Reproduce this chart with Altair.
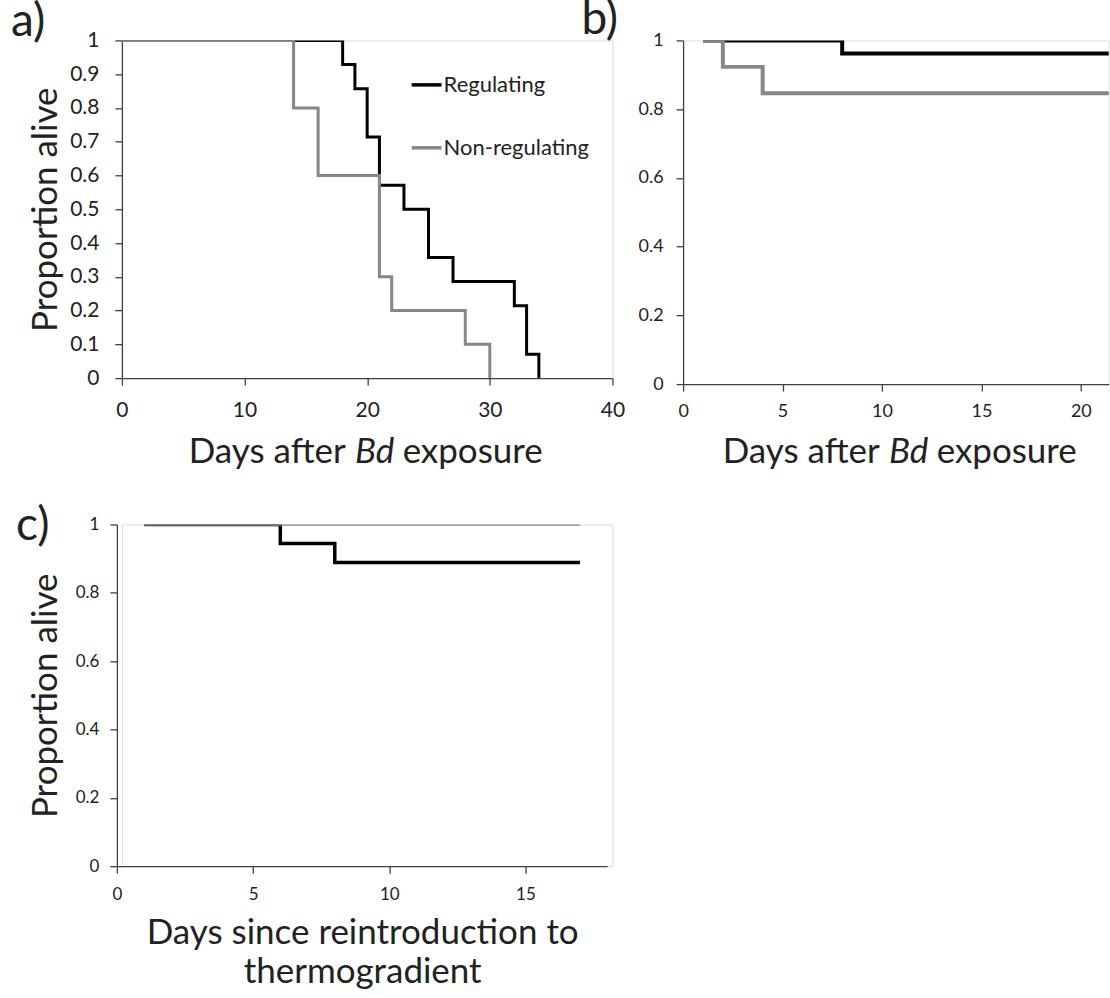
import altair as alt
import pandas as pd

FONT = "Lato"
TXT = "#222222"
AX = "#404040"

groups = ["Regulating", "Non-regulating"]
colors = ["#000000", "#878787"]

# Panel a
a_reg_days = [0, 18, 19, 20, 21, 23, 25, 27, 32, 33, 34]
a_reg_surv = [1, 0.929, 0.857, 0.714, 0.571, 0.5, 0.357, 0.286, 0.214, 0.071, 0]
a_non_days = [0, 14, 16, 21, 22, 28, 30]
a_non_surv = [1, 0.8, 0.6, 0.3, 0.2, 0.1, 0]
a_xticks = [0, 10, 20, 30, 40]
a_yticks = [0, 0.1, 0.2, 0.3, 0.4, 0.5, 0.6, 0.7, 0.8, 0.9, 1]

# Panel b
b_reg_days = [1, 8, 25]
b_reg_surv = [1, 0.962, 0.962]
b_non_days = [1, 2, 4, 25]
b_non_surv = [1, 0.923, 0.846, 0.846]
b_xticks = [0, 5, 10, 15, 20]
b_yticks = [0, 0.2, 0.4, 0.6, 0.8, 1]

# Panel c
c_reg_days = [1, 6, 8, 17]
c_reg_surv = [1, 0.944, 0.889, 0.889]
c_non_days = [1, 17]
c_non_surv = [1, 1]
c_xticks = [0, 5, 10, 15]
c_yticks = [0, 0.2, 0.4, 0.6, 0.8, 1]

TY = 39.5  # top of first row


def frame(days, surv, g):
    return pd.DataFrame({"day": days, "surv": surv, "group": g})


def axis_common(size, pad):
    return dict(grid=False, labelFont=FONT, labelFontSize=size, labelColor=TXT,
                labelPadding=pad, tickSize=7, tickColor=AX, tickWidth=1.3,
                domainColor=AX, domainWidth=1.3, labelFlush=False, labelOverlap=False)


def lines(df_reg, df_non, xscale, xaxis, yaxis, w_reg, w_non, legend=None):
    col = alt.Color("group:N", scale=alt.Scale(domain=groups, range=colors),
                    legend=legend)
    base = dict(x=alt.X("day:Q", scale=xscale, axis=xaxis),
                y=alt.Y("surv:Q", scale=alt.Scale(domain=[0, 1]), axis=yaxis))
    l1 = alt.Chart(df_reg).mark_line(interpolate="step-after", strokeWidth=w_reg,
                                      clip=True).encode(color=col, **base)
    l2 = alt.Chart(df_non).mark_line(interpolate="step-after", strokeWidth=w_non,
                                      clip=True).encode(color=col, **base)
    return [l1, l2]


def text_layer(txt, x, y, size, align="left", style="normal", baseline="alphabetic"):
    return alt.Chart(pd.DataFrame({"t": [txt]})).mark_text(
        text=txt, font=FONT, fontSize=size, fontStyle=style, align=align,
        baseline=baseline, color=TXT
    ).encode(x=alt.value(x), y=alt.value(y))


def bd_title(cx, y):
    return [
        text_layer("Days after", cx - 22, y, 35, align="right"),
        text_layer("Bd", cx + 7, y, 35, align="center", style="italic"),
        text_layer("exposure", cx + 35, y, 35, align="left"),
    ]


# ---------- panel a ----------
a_x0 = 121
a_h = 338
a_xaxis = alt.Axis(values=a_xticks, title=None, **axis_common(21, 14))
a_yaxis = alt.Axis(values=a_yticks, format="~g", title="Proportion alive",
                   titleFont=FONT, titleFontSize=35, titleFontWeight="normal",
                   titleColor=TXT, titleX=-76, titleY=a_h / 2, titleBaseline="middle",
                   **axis_common(21, 16))
a_legend = alt.Legend(orient="none", legendX=288, legendY=82 - 15 - TY, title=None,
                      symbolType="stroke", symbolSize=900, symbolStrokeWidth=3.5,
                      labelFont=FONT, labelFontSize=22, labelColor=TXT, labelLimit=400,
                      rowPadding=35, padding=0, labelOffset=0)
pa = alt.layer(
    *lines(frame(a_reg_days, a_reg_surv, "Regulating"),
           frame(a_non_days, a_non_surv, "Non-regulating"),
           alt.Scale(domain=[0, 40]), a_xaxis, a_yaxis, 3, 3, legend=a_legend),
    text_layer("a)", 10 - a_x0, 35 - TY, 46),
    *bd_title(367 - a_x0, 462 - TY),
).properties(width=491, height=a_h)

# ---------- panel b ----------
b_x0 = 682.7
b_h = 344
b_xaxis = alt.Axis(values=b_xticks, title=None, **axis_common(18, 11))
b_yaxis = alt.Axis(values=b_yticks, format="~g", title=None, **axis_common(18, 13))
pb = alt.layer(
    *lines(frame(b_reg_days, b_reg_surv, "Regulating"),
           frame(b_non_days, b_non_surv, "Non-regulating"),
           alt.Scale(domain=[0, 21.4]), b_xaxis, b_yaxis, 4, 4),
    text_layer("b)", 581 - b_x0, 33 - TY, 46),
    *bd_title(901.5 - b_x0, 462 - TY),
).properties(width=426, height=b_h)

# ---------- panel c ----------
c_x0 = 121
c_top = 524
c_h = 342
c_xaxis = alt.Axis(values=c_xticks, title=["Days since reintroduction to", "thermogradient"],
                   titleFont=FONT, titleFontSize=35, titleFontWeight="normal",
                   titleColor=TXT, titleLineHeight=39, titleX=361.5 - c_x0, titleY=77,
                   titleBaseline="alphabetic", **axis_common(17, 13))
c_yaxis = alt.Axis(values=c_yticks, format="~g", title="Proportion alive", offset=5,
                   titleFont=FONT, titleFontSize=35, titleFontWeight="normal",
                   titleColor=TXT, titleX=-71, titleY=c_h / 2, titleBaseline="middle",
                   **axis_common(17, 11))
pc = alt.layer(
    *lines(frame(c_reg_days, c_reg_surv, "Regulating"),
           frame(c_non_days, c_non_surv, "Non-regulating"),
           alt.Scale(domain=[0, 18], range=[-5, 485.7]), c_xaxis, c_yaxis, 3.5, 2.5),
    text_layer("c)", 15 - c_x0, 540 - c_top, 46),
).properties(width=491, height=c_h)

chart = alt.concat(
    pa, pb, pc, columns=2, bounds="flush",
    spacing={"row": c_top - (TY + 344), "column": b_x0 - (a_x0 + 491)},
).resolve_scale(color="independent").properties(
    padding={"left": 10, "top": -4, "right": 0, "bottom": 0}
).configure_view(stroke=None).configure(background="white")

chart.save("out.html", embed_options={"renderer": "svg", "actions": False})
